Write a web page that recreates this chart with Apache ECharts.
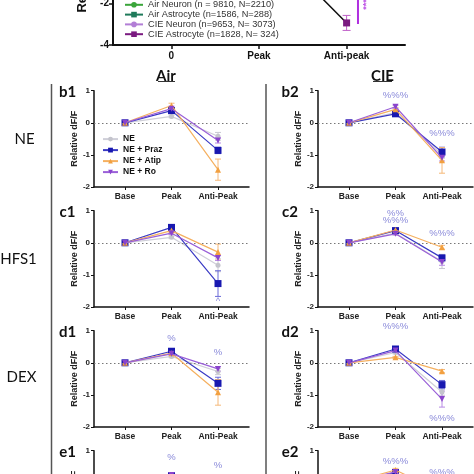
<!DOCTYPE html>
<html><head><meta charset="utf-8">
<script src="https://cdn.jsdelivr.net/npm/echarts@6/dist/echarts.min.js"></script>
<style>html,body{margin:0;padding:0;background:#fff;overflow:hidden;width:474px;height:474px}#c{position:absolute;left:0;top:-120px;width:474px;height:700px}</style>
</head><body><div id="c"></div>
<script>
// ---------- data ----------
const topStages = ['0', 'Peak', 'Anti-peak'];
const topGroups = ['Air Neuron (n = 9810, N=2210)', 'Air Astrocyte (n=1586, N=288)', 'CIE Neuron (n=9653, N= 3073)', 'CIE Astrocyte (n=1828, N= 324)'];
const topMean = [[0, 0.80, -0.90], [0, 1.20, -1.30], [0, 0.90, -1.10], [0, 1.30, -2.94]];
const topErr  = [[0, 0.10, 0.10], [0, 0.15, 0.15], [0, 0.10, 0.12], [0, 0.20, 0.36]];
const topSigLine = [[2.13, -0.50], [2.13, -2.99]];
const topSigText = [[2.23, -2.05, '***']];

const stages = ['Base', 'Peak', 'Anti-Peak'];
const groups = ['NE', 'NE + Praz', 'NE + Atip', 'NE + Ro'];

const b1Mean = [[0, 0.20, -0.42], [0, 0.38, -0.86], [0, 0.54, -1.46], [0, 0.44, -0.55]];
const b1Err  = [[0, 0.04, 0.12], [0, 0.05, 0.10], [0, 0.07, 0.33], [0, 0.05, 0.08]];
const b1Notes = [];
const b2Mean = [[0, 0.32, -1.00], [0, 0.28, -0.91], [0, 0.42, -1.17], [0, 0.50, -1.09]];
const b2Err  = [[0, 0.04, 0.10], [0, 0.03, 0.15], [0, 0.05, 0.40], [0, 0.05, 0.10]];
const b2Notes = [[1, 0.85, '%%%'], [2, -0.34, '%%%']];
const c1Mean = [[0, 0.17, -0.70], [0, 0.48, -1.27], [0, 0.38, -0.29], [0, 0.30, -0.47]];
const c1Err  = [[0, 0.04, 0.20], [0, 0.06, 0.40], [0, 0.05, 0.25], [0, 0.04, 0.08]];
const c1Notes = [[2, -1.82, '^']];
const c2Mean = [[0, 0.30, -0.58], [0, 0.38, -0.47], [0, 0.40, -0.14], [0, 0.28, -0.60]];
const c2Err  = [[0, 0.04, 0.22], [0, 0.05, 0.08], [0, 0.04, 0.06], [0, 0.04, 0.10]];
const c2Notes = [[1, 0.92, '%%'], [1, 0.69, '%%%'], [2, 0.29, '%%%']];
const d1Mean = [[0, 0.20, -0.27], [0, 0.36, -0.64], [0, 0.30, -0.92], [0, 0.28, -0.19]];
const d1Err  = [[0, 0.04, 0.10], [0, 0.06, 0.19], [0, 0.05, 0.40], [0, 0.04, 0.07]];
const d1Notes = [[1, 0.75, '%'], [2, 0.33, '%']];
const d2Mean = [[0, 0.32, -0.91], [0, 0.43, -0.68], [0, 0.17, -0.26], [0, 0.38, -1.13]];
const d2Err  = [[0, 0.04, 0.10], [0, 0.04, 0.13], [0, 0.03, 0.05], [0, 0.05, 0.25]];
const d2Notes = [[1, 1.13, '%%%'], [2, -1.74, '%%%']];
const e1Mean = [[0, 0.15, -0.30], [0, 0.22, -0.50], [0, 0.18, -0.60], [0, 0.24, -0.40]];
const e1Err  = [[0, 0.04, 0.10], [0, 0.06, 0.10], [0, 0.05, 0.20], [0, 0.08, 0.10]];
const e1Notes = [[1, 0.80, '%'], [2, 0.54, '%']];
const e2Mean = [[0, 0.30, -0.50], [0, 0.32, -0.60], [0, 0.40, -0.30], [0, 0.34, -0.70]];
const e2Err  = [[0, 0.04, 0.10], [0, 0.05, 0.10], [0, 0.05, 0.15], [0, 0.06, 0.10]];
const e2Notes = [[1, 0.67, '%%%'], [2, 0.33, '%%%']];

// ---------- styling ----------
const OFF = 120; // chart canvas is shifted up by this many px
const topColors = ['#3aa53a', '#1f7a5a', '#b27ed6', '#7a1a80'];
const topErrColors = ['#7cc87c', '#5aa58a', '#d0a8ea', '#c060c8'];
const topSymbols = ['circle', 'rect', 'circle', 'rect'];
const gColors = ['#c4c4cc', '#1818b0', '#f2a040', '#8a44cc'];
const gLine = ['#cfcfd8', '#3a3ac4', '#f5b060', '#9a60d8'];
const gErr = ['#c8c8d2', '#6a6ad8', '#f5b878', '#b88ae4'];
const gSym = ['circle', 'rect', 'triangle', 'triangle'];
const gRot = [0, 0, 0, 180];
const gSize = [5, 7, 6, 6];
const noteColor = '#6a6ad0';
const FONT = 'Liberation Sans';

const panels = [
  {id: 'b1', mean: b1Mean, err: b1Err, notes: b1Notes, row: 0, col: 0},
  {id: 'b2', mean: b2Mean, err: b2Err, notes: b2Notes, row: 0, col: 1},
  {id: 'c1', mean: c1Mean, err: c1Err, notes: c1Notes, row: 1, col: 0},
  {id: 'c2', mean: c2Mean, err: c2Err, notes: c2Notes, row: 1, col: 1},
  {id: 'd1', mean: d1Mean, err: d1Err, notes: d1Notes, row: 2, col: 0},
  {id: 'd2', mean: d2Mean, err: d2Err, notes: d2Notes, row: 2, col: 1},
  {id: 'e1', mean: e1Mean, err: e1Err, notes: e1Notes, row: 3, col: 0},
  {id: 'e2', mean: e2Mean, err: e2Err, notes: e2Notes, row: 3, col: 1}
];
const rowTops = [90.7, 210.7, 330.7, 450.7];
const colLefts = [94, 318];
const PW = 155, PH = 96.3;

function errRender(color, capW) {
  return function (params, api) {
    const x = api.value(0), y = api.value(1), e = api.value(2);
    if (!e) return null;
    const hi = api.coord([x, y + e]), lo = api.coord([x, y - e]);
    const st = {stroke: color, lineWidth: 1};
    return {type: 'group', children: [
      {type: 'line', shape: {x1: hi[0], y1: hi[1], x2: lo[0], y2: lo[1]}, style: st},
      {type: 'line', shape: {x1: hi[0] - capW, y1: hi[1], x2: hi[0] + capW, y2: hi[1]}, style: st},
      {type: 'line', shape: {x1: lo[0] - capW, y1: lo[1], x2: lo[0] + capW, y2: lo[1]}, style: st}
    ]};
  };
}

const grids = [], xAxes = [], yAxes = [], series = [];

// ---------- top chart ----------
grids.push({left: 113, top: 45 - 7 * 20.83 + OFF, width: 292, height: 7 * 20.83});
xAxes.push({
  gridIndex: 0, type: 'value', min: -2 / 3, max: 8 / 3,
  axisLine: {onZero: false, lineStyle: {color: '#111', width: 2}},
  axisTick: {show: true, customValues: [0, 1, 2], length: 4, lineStyle: {color: '#111', width: 1.5}},
  axisLabel: {customValues: [0, 1, 2], formatter: v => topStages[Math.round(v)], color: '#111', fontFamily: FONT, fontWeight: 'bold', fontSize: 10, margin: 6},
  splitLine: {show: false}
});
yAxes.push({
  gridIndex: 0, type: 'value', min: -4, max: 3, interval: 2,
  name: 'Relative dF/F', nameLocation: 'middle', nameGap: 19,
  nameTextStyle: {fontFamily: FONT, fontWeight: 'bold', fontSize: 13, color: '#111'},
  axisLine: {show: true, onZero: false, lineStyle: {color: '#111', width: 2}},
  axisTick: {show: true, length: 4, lineStyle: {color: '#111', width: 1.5}},
  axisLabel: {color: '#111', fontFamily: FONT, fontWeight: 'bold', fontSize: 10, margin: 4},
  splitLine: {show: false}
});
topGroups.forEach((name, i) => {
  series.push({
    type: 'custom', xAxisIndex: 0, yAxisIndex: 0, silent: true, z: 1,
    renderItem: errRender(topErrColors[i], 4), encode: {x: 0, y: 1},
    data: topErr[i].map((e, k) => [k, topMean[i][k], e])
  });
  series.push({
    type: 'line', name: name, xAxisIndex: 0, yAxisIndex: 0, z: 3,
    data: topMean[i].map((v, k) => [k, v]),
    symbol: topSymbols[i], symbolSize: 7,
    lineStyle: {color: '#111', width: 1.5},
    itemStyle: {color: topColors[i]}
  });
});
series.push({
  type: 'line', xAxisIndex: 0, yAxisIndex: 0, data: topSigLine, symbol: 'none',
  lineStyle: {color: '#b030e0', width: 2}, silent: true
});
series.push({
  type: 'scatter', xAxisIndex: 0, yAxisIndex: 0, symbolSize: 1, silent: true,
  itemStyle: {color: 'rgba(0,0,0,0)'},
  data: topSigText.map(d => ({value: [d[0], d[1]], label: {formatter: d[2]}})),
  label: {show: true, position: 'inside', rotate: 90, color: '#b030e0', fontWeight: 'bold', fontSize: 9, fontFamily: FONT}
});

// ---------- panels ----------
panels.forEach((p, pi) => {
  const gi = pi + 1;
  grids.push({left: colLefts[p.col], top: rowTops[p.row] + OFF, width: PW, height: PH});
  xAxes.push({
    gridIndex: gi, type: 'value', min: -2 / 3, max: 8 / 3,
    axisLine: {onZero: false, lineStyle: {color: '#111', width: 1.5}},
    axisTick: {show: true, customValues: [0, 1, 2], length: 3, lineStyle: {color: '#111', width: 1}},
    axisLabel: {customValues: [0, 1, 2], formatter: v => stages[Math.round(v)], color: '#222', fontFamily: FONT, fontWeight: 'bold', fontSize: 8.5, margin: 5},
    splitLine: {show: false}
  });
  yAxes.push({
    gridIndex: gi, type: 'value', min: -2, max: 1, interval: 1,
    name: 'Relative dF/F', nameLocation: 'middle', nameGap: 14,
    nameTextStyle: {fontFamily: FONT, fontWeight: 'bold', fontSize: 9, color: '#222'},
    axisLine: {show: true, onZero: false, lineStyle: {color: '#111', width: 1.5}},
    axisTick: {show: true, length: 3, lineStyle: {color: '#111', width: 1}},
    axisLabel: {color: '#222', fontFamily: FONT, fontWeight: 'bold', fontSize: 8, margin: 4},
    splitLine: {show: false}
  });
  groups.forEach((name, i) => {
    series.push({
      type: 'custom', xAxisIndex: gi, yAxisIndex: gi, silent: true, z: 1,
      renderItem: errRender(gErr[i], 3), encode: {x: 0, y: 1},
      data: p.err[i].map((e, k) => [k, p.mean[i][k], e])
    });
  });
  groups.forEach((name, i) => {
    const s = {
      type: 'line', name: name, xAxisIndex: gi, yAxisIndex: gi, z: 3 + i,
      data: p.mean[i].map((v, k) => [k, v]),
      symbol: gSym[i], symbolSize: gSize[i], symbolRotate: gRot[i],
      lineStyle: {color: gLine[i], width: 1.2},
      itemStyle: {color: gColors[i]}
    };
    if (i === 0) {
      s.markLine = {
        silent: true, symbol: 'none', label: {show: false},
        lineStyle: {color: '#777', type: [1.5, 2.5], width: 1},
        data: [{yAxis: 0}]
      };
    }
    series.push(s);
  });
  series.push({
    type: 'scatter', xAxisIndex: gi, yAxisIndex: gi, symbolSize: 1, silent: true, clip: false,
    itemStyle: {color: 'rgba(0,0,0,0)'},
    data: p.notes.map(d => ({value: [d[0], d[1]], label: {formatter: d[2]}})),
    label: {show: true, position: 'inside', color: noteColor, fontSize: 9.5, fontFamily: FONT}
  });
});

// ---------- decorations ----------
const graphic = [];
function txt(x, y, t, size, weight, family) {
  graphic.push({type: 'text', x: x, y: y + OFF, silent: true,
    style: {text: t, fontSize: size, fontWeight: weight, fontFamily: family, fill: '#111', align: 'center', verticalAlign: 'middle'}});
}
function ln(x1, y1, x2, y2, w, c) {
  graphic.push({type: 'line', silent: true, shape: {x1: x1, y1: y1 + OFF, x2: x2, y2: y2 + OFF}, style: {stroke: c, lineWidth: w}});
}
txt(166, 76, 'Air', 15, 'bold', 'Lato');
txt(382.5, 76, 'CIE', 15, 'bold', 'Lato');
ln(158, 81.5, 175, 81.5, 1, '#333');
ln(373, 81.5, 392, 81.5, 1, '#333');
ln(51.5, 84, 51.5, 580, 1.5, '#555');
ln(266, 84, 266, 580, 1.5, '#555');
txt(24.5, 139, 'NE', 15, 'normal', 'Lato');
txt(18.5, 259.5, 'HFS1', 15, 'normal', 'Lato');
txt(21.5, 377, 'DEX', 15, 'normal', 'Lato');
panels.forEach(p => {
  txt(p.col === 0 ? 67.5 : 290, rowTops[p.row] + 1.5, p.id, 15, 'bold', 'Lato');
});

const option = {
  animation: false,
  backgroundColor: '#fff',
  grid: grids, xAxis: xAxes, yAxis: yAxes, series: series, graphic: graphic,
  legend: [
    {
      orient: 'vertical', left: 124, top: 0.3 + OFF, padding: 0, itemWidth: 18, itemHeight: 7, itemGap: 0.8,
      data: topGroups.map((n, i) => ({name: n, itemStyle: {color: topColors[i]}, lineStyle: {color: topColors[i]}})),
      textStyle: {fontSize: 9.2, color: '#333', fontFamily: FONT},
      selectedMode: false
    },
    {
      orient: 'vertical', left: 102, top: 134.6 + OFF, padding: 0, itemWidth: 15, itemHeight: 6, itemGap: 2,
      data: groups,
      textStyle: {fontSize: 8.5, fontWeight: 'bold', color: '#111', fontFamily: FONT},
      selectedMode: false
    }
  ]
};
const chart = echarts.init(document.getElementById('c'), null, {renderer: 'canvas'});
chart.setOption(option);
</script>
</body></html>
